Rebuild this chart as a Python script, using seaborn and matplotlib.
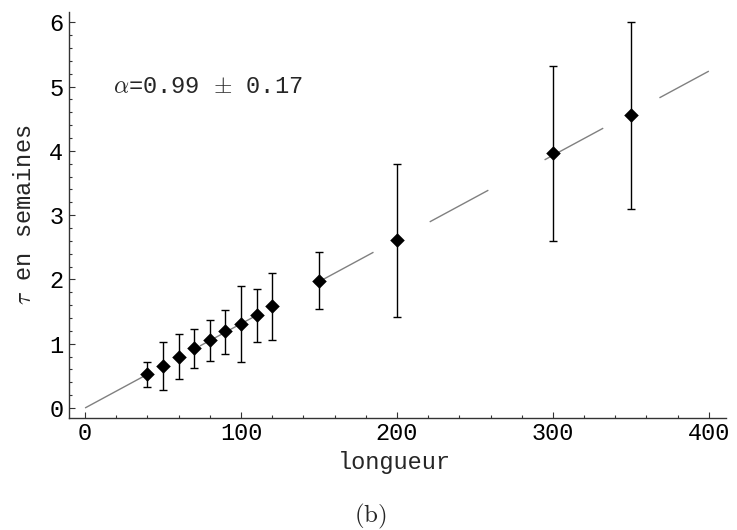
# Temps de relaxation tau vs longueur, avec ajustement lineaire
import numpy as np
import seaborn as sns
import matplotlib.pyplot as plt
from matplotlib.ticker import MultipleLocator

# donnees
longueur = [40, 50, 60, 70, 80, 90, 100, 110, 120, 150, 200, 300, 350]
tau = [0.53, 0.66, 0.80, 0.93, 1.05, 1.19, 1.31, 1.44, 1.58, 1.98, 2.61, 3.97, 4.55]
tau_bas = [0.32, 0.28, 0.45, 0.62, 0.73, 0.84, 0.71, 1.03, 1.06, 1.54, 1.42, 2.60, 3.09]
tau_haut = [0.72, 1.02, 1.15, 1.23, 1.37, 1.53, 1.90, 1.85, 2.10, 2.42, 3.80, 5.32, 6.00]

# droite d'ajustement
fit_x = [0, 400]
fit_y = [0, 5.24]

sns.set_theme(style="ticks")
plt.rcParams['font.family'] = ['Liberation Mono', 'DejaVu Sans']
plt.rcParams['mathtext.fontset'] = 'cm'

fig = plt.figure(figsize=(7.37, 5.30), dpi=100)
ax = fig.add_axes([69/737, 112/530, 657/737, 406/530])

sns.lineplot(x=fit_x, y=fit_y, ax=ax, color='#808080', lw=1.0,
             linestyle=(0, (48, 46)), zorder=1)

yerr = [np.array(tau) - np.array(tau_bas), np.array(tau_haut) - np.array(tau)]
ax.errorbar(longueur, tau, yerr=yerr, fmt='none', ecolor='black',
            elinewidth=1.0, capsize=3, capthick=1.0, zorder=2)
sns.scatterplot(x=longueur, y=tau, ax=ax, marker='D', s=55, color='black',
                linewidth=0, zorder=3)

ax.text(18, 5.0, r'$\alpha$=0.99 $\pm$ 0.17', fontsize=17, va='center', ha='left')

ax.set_xlim(-10.3, 411)
ax.set_ylim(-0.156, 6.16)
ax.xaxis.set_major_locator(MultipleLocator(100))
ax.xaxis.set_minor_locator(MultipleLocator(20))
ax.yaxis.set_major_locator(MultipleLocator(1))
ax.yaxis.set_minor_locator(MultipleLocator(0.2))
ax.tick_params(which='both', direction='in', colors='#333333', labelcolor='black',
               labelsize=17, width=0.8)
ax.tick_params(which='major', length=4)
ax.tick_params(which='minor', length=2.5)
ax.tick_params(axis='x', pad=3)
ax.tick_params(axis='y', pad=4)

sns.despine(ax=ax)
for s in ['left', 'bottom']:
    ax.spines[s].set_color('#333333')
    ax.spines[s].set_linewidth(1.0)

ax.set_xlabel('longueur', fontsize=17)
ax.set_ylabel(r'$\tau$ en semaines', fontsize=17)
ax.xaxis.set_label_coords(0.495, -0.082)
ax.yaxis.set_label_coords(-0.05, 0.5)

fig.text(370/737, 1 - 516/530, r'$\mathrm{(b)}$', fontsize=18, ha='center', va='center')

fig.savefig('out.png', dpi=100)
